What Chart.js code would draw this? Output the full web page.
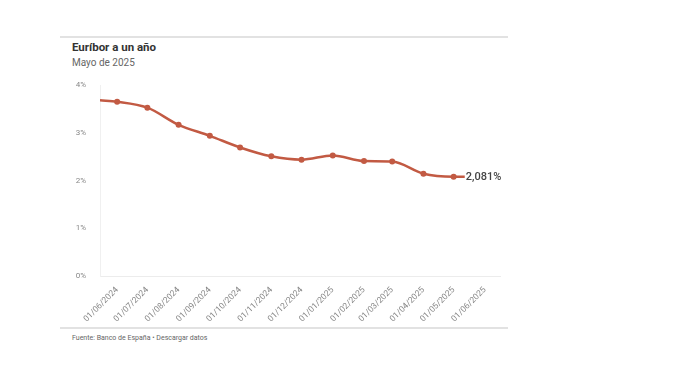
<!DOCTYPE html>
<html>
<head>
<meta charset="utf-8">
<script src="https://cdn.jsdelivr.net/npm/chart.js@4"></script>
<style>
  html, body { margin: 0; padding: 0; background: #fff; }
  body { width: 673px; height: 382px; position: relative; overflow: hidden; font-family: Roboto, sans-serif; }
  .rule { position: absolute; left: 60px; width: 448px; height: 2px; background: #e2e2e2; }
  #title { position: absolute; left: 72px; top: 40px; font-size: 11.5px; font-weight: bold; color: #333; }
  #subtitle { position: absolute; left: 72px; top: 57px; font-size: 10px; color: #666; }
  #source { position: absolute; left: 72px; top: 334px; font-size: 7px; color: #666; }
  canvas { position: absolute; left: 0; top: 0; }
</style>
</head>
<body>
<div class="rule" style="top:36px"></div>
<div id="title">Euríbor a un año</div>
<div id="subtitle">Mayo de 2025</div>
<div class="rule" style="top:327px"></div>
<div id="source">Fuente: Banco de España • Descargar datos</div>
<canvas id="chart" width="673" height="382"></canvas>
<script>
// monthly averages, plotted on the 1st of each month
const months = ['2024-06-01', '2024-07-01', '2024-08-01', '2024-09-01', '2024-10-01', '2024-11-01',
                '2024-12-01', '2025-01-01', '2025-02-01', '2025-03-01', '2025-04-01', '2025-05-01'];
const euribor = [3.650, 3.526, 3.166, 2.936, 2.691, 2.506, 2.436, 2.525, 2.407, 2.398, 2.143, 2.081];

// the line runs a little before the first dot and after the last one
const leadDate = '2024-05-15';
const leadValue = 3.680;
const tailDate = '2025-05-12';
const tailValue = 2.081;

const tickLabels = ['01/06/2024', '01/07/2024', '01/08/2024', '01/09/2024', '01/10/2024', '01/11/2024',
                    '01/12/2024', '01/01/2025', '01/02/2025', '01/03/2025', '01/04/2025', '01/05/2025',
                    '01/06/2025'];
const yTicks = [0, 1, 2, 3, 4];
const lastLabel = '2,081%';

const lineColor = '#c25a43';
const base = Date.UTC(2024, 5, 1);
const toDay = s => (Date.parse(s + 'T00:00:00Z') - base) / 864e5;
const labelDay = l => {
    const [d, m, y] = l.split('/').map(Number);
    return (Date.UTC(y, m - 1, d) - base) / 864e5;
};

const points = [{ x: toDay(leadDate), y: leadValue }]
    .concat(months.map((m, i) => ({ x: toDay(m), y: euribor[i] })))
    .concat([{ x: toDay(tailDate), y: tailValue }]);
const radii = points.map((p, i) => (i === 0 || i === points.length - 1) ? 0 : 3);
const tickDays = tickLabels.map(labelDay);

const endLabel = {
    id: 'endLabel',
    afterDatasetsDraw(chart) {
        const meta = chart.getDatasetMeta(0);
        const pt = meta.data[meta.data.length - 1];
        const ctx = chart.ctx;
        ctx.save();
        ctx.font = '500 11px Roboto, sans-serif';
        ctx.fillStyle = '#444';
        ctx.textAlign = 'left';
        ctx.textBaseline = 'middle';
        ctx.fillText(lastLabel, pt.x + 1, pt.y + 1);
        ctx.restore();
    }
};

new Chart(document.getElementById('chart'), {
    type: 'line',
    data: {
        datasets: [{
            data: points,
            borderColor: lineColor,
            backgroundColor: lineColor,
            borderWidth: 2.5,
            pointRadius: radii,
            pointHoverRadius: radii,
            pointBackgroundColor: lineColor,
            pointBorderWidth: 0,
            cubicInterpolationMode: 'monotone'
        }]
    },
    options: {
        responsive: false,
        animation: false,
        layout: { padding: { left: 60, right: 173, top: 85, bottom: 56 } },
        plugins: { legend: { display: false }, tooltip: { enabled: false } },
        scales: {
            x: {
                type: 'linear',
                min: -17,
                max: 380,
                afterBuildTicks: scale => { scale.ticks = tickDays.map(v => ({ value: v })); },
                afterFit: scale => { scale.height = 50; },
                grid: { display: false },
                border: { color: '#ececec' },
                ticks: {
                    autoSkip: false,
                    minRotation: 45,
                    maxRotation: 45,
                    padding: 1,
                    color: '#888',
                    font: { family: 'Roboto', size: 8.5 },
                    callback: v => tickLabels[tickDays.indexOf(v)]
                }
            },
            y: {
                min: 0,
                max: 4,
                afterBuildTicks: scale => { scale.ticks = yTicks.map(v => ({ value: v })); },
                afterFit: scale => { scale.width = 40; },
                grid: { display: false },
                border: { color: '#f0f0f0' },
                ticks: {
                    padding: 6,
                    color: '#888',
                    font: { family: 'Roboto', size: 8 },
                    callback: v => v + '%'
                }
            }
        }
    },
    plugins: [endLabel]
});
</script>
</body>
</html>
